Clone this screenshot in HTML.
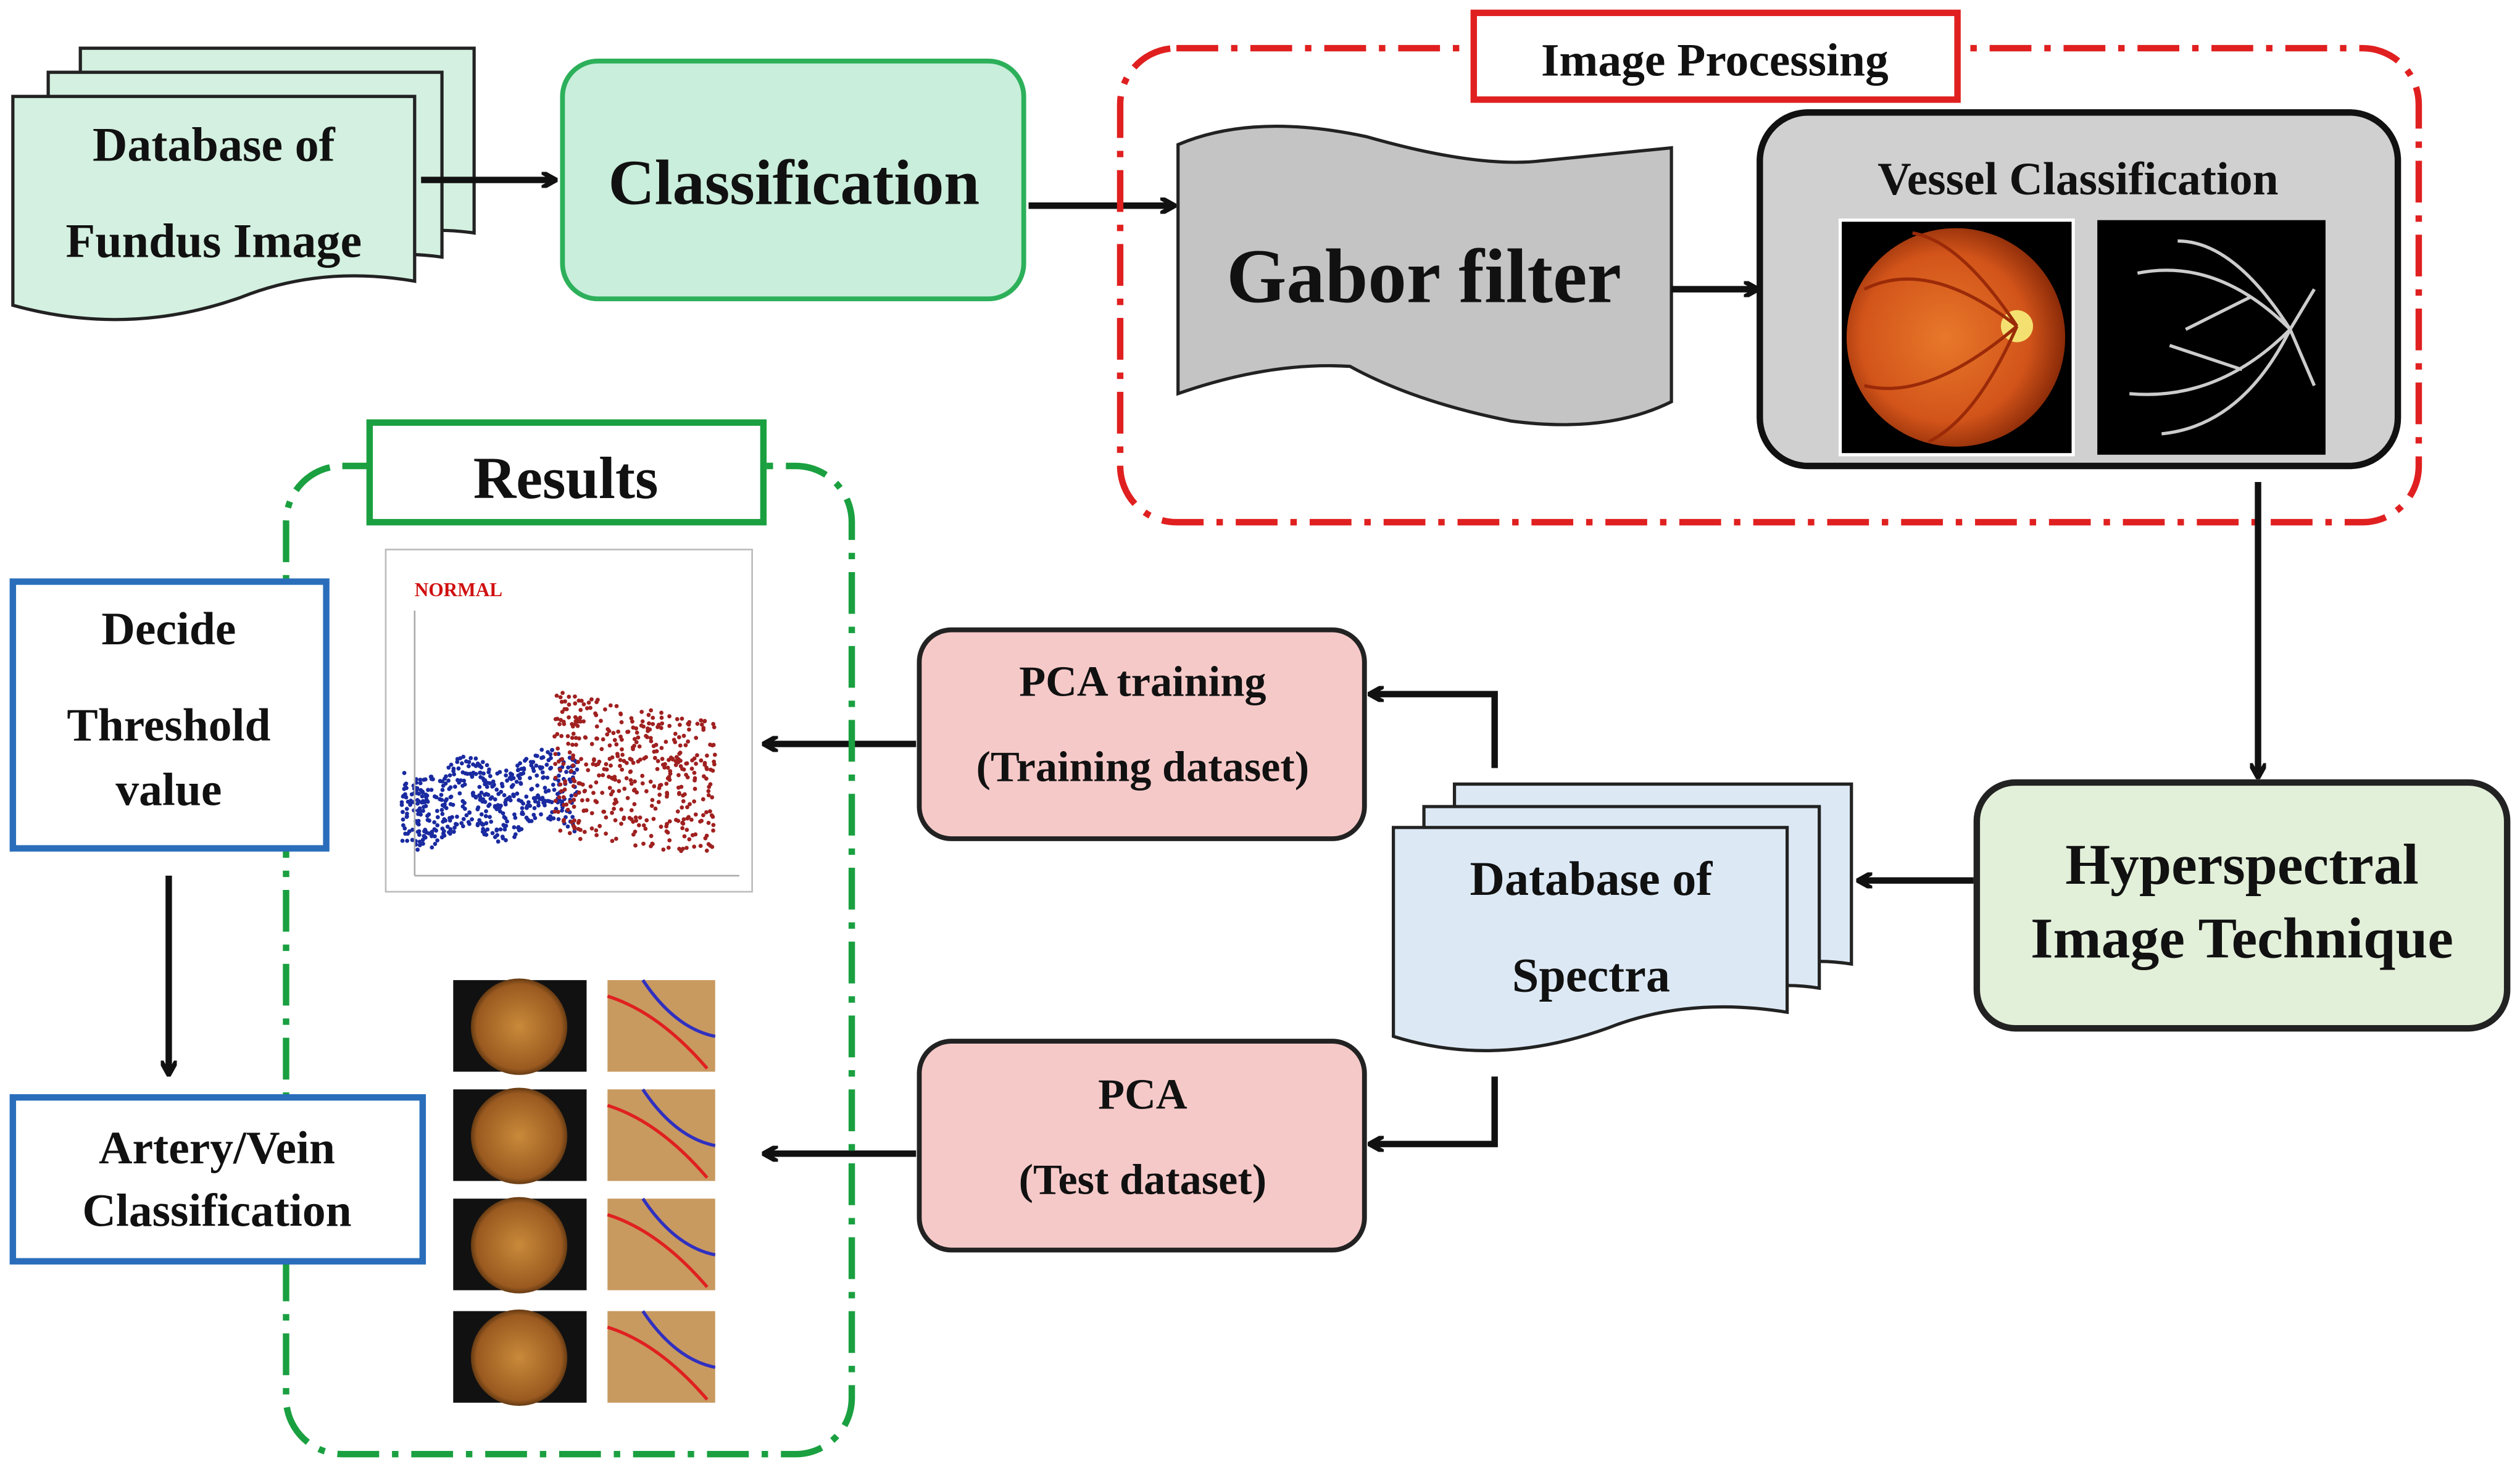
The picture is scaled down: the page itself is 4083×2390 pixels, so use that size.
<!DOCTYPE html>
<html><head><meta charset="utf-8">
<style>
html,body{margin:0;padding:0;background:#fff;}
svg{display:block;}
text{font-family:"Liberation Serif",serif;font-weight:bold;fill:#111;}
</style></head>
<body>
<svg width="4083" height="2390" viewBox="0 0 1568 918" preserveAspectRatio="none" xmlns="http://www.w3.org/2000/svg">
<defs>
<marker id="ah" markerWidth="10" markerHeight="10" refX="8" refY="5" orient="auto" markerUnits="userSpaceOnUse">
<path d="M0,0 L9,5 L0,10" fill="none" stroke="#111" stroke-width="3"/>
</marker>
<radialGradient id="ret" cx="0.45" cy="0.5" r="0.55">
<stop offset="0" stop-color="#e8782a"/><stop offset="0.7" stop-color="#d2541a"/><stop offset="1" stop-color="#8a2a08"/>
</radialGradient>
<radialGradient id="ret2" cx="0.5" cy="0.5" r="0.55">
<stop offset="0" stop-color="#c88a3a"/><stop offset="0.8" stop-color="#9a5a20"/><stop offset="1" stop-color="#3a2008"/>
</radialGradient>
</defs>

<!-- Database of Fundus Image -->
<g stroke="#222" stroke-width="2" fill="#d3f0e0">
<path d="M50,30 H295 V145 Q260,140 235,150 L50,150 Z"/>
<path d="M30,45 H275 V160 Q240,155 215,165 L30,165 Z"/>
<path d="M8,60 H258 V175 Q200,165 150,185 Q80,210 8,190 Z"/>
</g>
<text x="133" y="100" font-size="30" text-anchor="middle">Database of</text>
<text x="133" y="160" font-size="30" text-anchor="middle">Fundus Image</text>
<line x1="262" y1="112" x2="345" y2="112" stroke="#111" stroke-width="4" marker-end="url(#ah)"/>

<!-- Classification -->
<rect x="350" y="38" width="287" height="148" rx="22" fill="#c9eedb" stroke="#2cb05a" stroke-width="3"/>
<text x="494" y="127" font-size="40" text-anchor="middle">Classification</text>
<line x1="640" y1="128" x2="730" y2="128" stroke="#111" stroke-width="4" marker-end="url(#ah)"/>

<!-- Image processing group -->
<rect x="697" y="30" width="808" height="295" rx="35" fill="none" stroke="#e02020" stroke-width="4" stroke-dasharray="26,8,4,8"/>
<rect x="917" y="8" width="301" height="54" fill="#fff" stroke="#e02020" stroke-width="4"/>
<text x="1067" y="47" font-size="29" text-anchor="middle">Image Processing</text>

<path d="M733,90 Q780,70 850,85 Q920,105 960,100 Q1010,95 1040,92 L1040,250 Q1000,270 940,262 Q880,250 840,228 Q790,225 733,245 Z" fill="#c4c4c4" stroke="#222" stroke-width="2"/>
<text x="886" y="188" font-size="48" text-anchor="middle">Gabor filter</text>
<line x1="1040" y1="180" x2="1093" y2="180" stroke="#111" stroke-width="4" marker-end="url(#ah)"/>

<rect x="1095" y="70" width="397" height="220" rx="30" fill="#d0d0d0" stroke="#111" stroke-width="4"/>
<text x="1293" y="121" font-size="29" text-anchor="middle">Vessel Classification</text>
<rect x="1145" y="137" width="145" height="146" fill="#000" stroke="#fff" stroke-width="2"/>
<circle cx="1217" cy="210" r="68" fill="url(#ret)"/>
<circle cx="1255" cy="203" r="10" fill="#f4e070"/>
<path d="M1255,203 Q1200,160 1160,180 M1255,203 Q1200,250 1160,240 M1255,203 Q1220,150 1190,145 M1255,203 Q1230,260 1200,275" stroke="#9a2a08" stroke-width="2" fill="none"/>
<rect x="1305" y="137" width="142" height="146" fill="#000"/>
<g stroke="#ccc" stroke-width="2" fill="none">
<path d="M1425,205 Q1380,160 1330,170 M1425,205 Q1380,250 1325,245 M1425,205 Q1390,150 1355,150 M1425,205 Q1395,265 1345,270 M1400,185 L1360,205 M1395,230 L1350,215 M1440,180 L1425,205 L1440,240"/>
</g>
<line x1="1405" y1="300" x2="1405" y2="483" stroke="#111" stroke-width="4" marker-end="url(#ah)"/>

<!-- Hyperspectral -->
<rect x="1230" y="487" width="330" height="153" rx="24" fill="#e2efd9" stroke="#222" stroke-width="4"/>
<text x="1395" y="550" font-size="36" text-anchor="middle">Hyperspectral</text>
<text x="1395" y="596" font-size="36" text-anchor="middle">Image Technique</text>
<line x1="1228" y1="548" x2="1157" y2="548" stroke="#111" stroke-width="4" marker-end="url(#ah)"/>

<!-- Database of Spectra -->
<g stroke="#222" stroke-width="2" fill="#dce9f5">
<path d="M905,488 H1152 V600 Q1120,595 1100,605 L905,605 Z"/>
<path d="M886,502 H1132 V615 Q1100,610 1080,620 L886,620 Z"/>
<path d="M867,515 H1112 V630 Q1050,620 1000,640 Q930,665 867,645 Z"/>
</g>
<text x="990" y="557" font-size="30" text-anchor="middle">Database of</text>
<text x="990" y="617" font-size="30" text-anchor="middle">Spectra</text>

<polyline points="930,478 930,432 853,432" fill="none" stroke="#111" stroke-width="4" marker-end="url(#ah)"/>
<polyline points="930,670 930,712 853,712" fill="none" stroke="#111" stroke-width="4" marker-end="url(#ah)"/>

<!-- PCA boxes -->
<rect x="572" y="392" width="277" height="130" rx="20" fill="#f6c9c9" stroke="#222" stroke-width="3"/>
<text x="711" y="433" font-size="27" text-anchor="middle">PCA training</text>
<text x="711" y="486" font-size="27" text-anchor="middle">(Training dataset)</text>
<rect x="572" y="648" width="277" height="130" rx="20" fill="#f6c9c9" stroke="#222" stroke-width="3"/>
<text x="711" y="690" font-size="27" text-anchor="middle">PCA</text>
<text x="711" y="743" font-size="27" text-anchor="middle">(Test dataset)</text>
<line x1="570" y1="463" x2="476" y2="463" stroke="#111" stroke-width="4" marker-end="url(#ah)"/>
<line x1="570" y1="718" x2="476" y2="718" stroke="#111" stroke-width="4" marker-end="url(#ah)"/>

<!-- Results group -->
<rect x="178" y="290" width="352" height="615" rx="35" fill="none" stroke="#1aa040" stroke-width="4" stroke-dasharray="26,8,4,8"/>
<rect x="230" y="263" width="245" height="62" fill="#fff" stroke="#1aa040" stroke-width="4"/>
<text x="352" y="310" font-size="37" text-anchor="middle">Results</text>

<rect x="240" y="342" width="228" height="213" fill="#fff" stroke="#bbb" stroke-width="1"/>
<text x="258" y="371" font-size="12" style="fill:#d01010">NORMAL</text>
<g id="dots"></g>
<line x1="258" y1="380" x2="258" y2="545" stroke="#aaa" stroke-width="1"/>
<line x1="258" y1="545" x2="460" y2="545" stroke="#aaa" stroke-width="1"/>

<!-- retina grid -->
<g id="grid"></g>

<!-- Decide -->
<rect x="8" y="362" width="195" height="166" fill="#fff" stroke="#2a6ebb" stroke-width="4"/>
<text x="105" y="401" font-size="29" text-anchor="middle">Decide</text>
<text x="105" y="461" font-size="29" text-anchor="middle">Threshold</text>
<text x="105" y="501" font-size="29" text-anchor="middle">value</text>
<line x1="105" y1="545" x2="105" y2="668" stroke="#111" stroke-width="4" marker-end="url(#ah)"/>
<rect x="8" y="683" width="255" height="102" fill="#fff" stroke="#2a6ebb" stroke-width="4"/>
<text x="135" y="724" font-size="29" text-anchor="middle">Artery/Vein</text>
<text x="135" y="763" font-size="29" text-anchor="middle">Classification</text>
</svg>
<script>
var ns="http://www.w3.org/2000/svg";
var d=document.getElementById("dots");var s=7;
function r(){s=(s*9301+49297)%233280;return s/233280;}
for(var i=0;i<500;i++){var x=250+r()*110,y=480+r()*45-(x-250)*0.1+Math.sin(x/8)*6;
var c=document.createElementNS(ns,"circle");c.setAttribute("cx",x);c.setAttribute("cy",y);c.setAttribute("r",1.3);c.setAttribute("fill","#1a2aa0");d.appendChild(c);}
for(var i=0;i<450;i++){var x=345+r()*100,y=430+r()*90+(x-345)*0.2;if(y>530)y-=60;
var c=document.createElementNS(ns,"circle");c.setAttribute("cx",x);c.setAttribute("cy",y);c.setAttribute("r",1.3);c.setAttribute("fill","#a02020");d.appendChild(c);}
var g=document.getElementById("grid");var ys=[610,678,746,816];
ys.forEach(function(y){
 var b=document.createElementNS(ns,"rect");b.setAttribute("x",282);b.setAttribute("y",y);b.setAttribute("width",83);b.setAttribute("height",57);b.setAttribute("fill","#111");g.appendChild(b);
 var c=document.createElementNS(ns,"circle");c.setAttribute("cx",323);c.setAttribute("cy",y+29);c.setAttribute("r",30);c.setAttribute("fill","url(#ret2)");g.appendChild(c);
 var b2=document.createElementNS(ns,"rect");b2.setAttribute("x",378);b2.setAttribute("y",y);b2.setAttribute("width",67);b2.setAttribute("height",57);b2.setAttribute("fill","#c89a60");g.appendChild(b2);
 var p=document.createElementNS(ns,"path");p.setAttribute("d","M378,"+(y+10)+" Q410,"+(y+20)+" 440,"+(y+55));p.setAttribute("stroke","#e02020");p.setAttribute("stroke-width","2");p.setAttribute("fill","none");g.appendChild(p);
 var q=document.createElementNS(ns,"path");q.setAttribute("d","M400,"+y+" Q420,"+(y+30)+" 445,"+(y+35));q.setAttribute("stroke","#3030c0");q.setAttribute("stroke-width","2");q.setAttribute("fill","none");g.appendChild(q);
});
</script>
</body></html>
